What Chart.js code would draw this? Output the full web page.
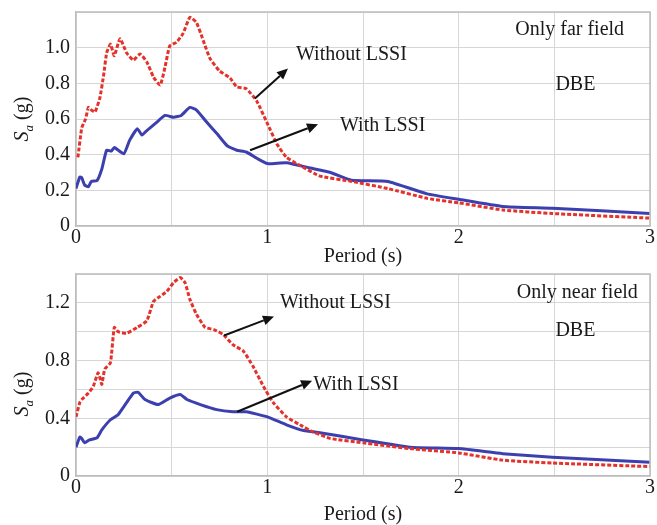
<!DOCTYPE html>
<html>
<head>
<meta charset="utf-8">
<script src="https://cdn.jsdelivr.net/npm/chart.js@4.4.1/dist/chart.umd.min.js"></script>
<style>
  body { margin: 0; background: #fff; }
  #wrap { position: relative; width: 657px; height: 525px; }
  canvas { position: absolute; left: 0; }
</style>
</head>
<body>
<div id="wrap">
  <canvas id="farChart" width="657" height="268" style="top:0"></canvas>
  <canvas id="nearChart" width="657" height="257" style="top:268px"></canvas>
</div>
<script>
// Only far field, DBE : period (s) and Sa (g)
const farWithoutT = [0.01,0.03,0.05,0.065,0.08,0.1,0.125,0.145,0.16,0.18,0.2,0.23,0.265,0.3,0.335,0.37,0.405,0.44,0.465,0.49,0.525,0.56,0.595,0.63,0.665,0.70,0.75,0.805,0.84,0.89,0.945,1.0,1.05,1.10,1.17,1.275,1.44,1.63,1.835,2.0,2.23,2.49,3.0];
const farWithoutSa = [0.385,0.55,0.6,0.665,0.65,0.64,0.72,0.85,0.97,1.02,0.955,1.05,0.97,0.93,0.965,0.92,0.835,0.79,0.89,1.01,1.03,1.08,1.17,1.14,1.04,0.94,0.87,0.83,0.78,0.77,0.70,0.575,0.46,0.385,0.34,0.28,0.25,0.21,0.155,0.13,0.09,0.07,0.044];
const farWithT = [0.0,0.02,0.03,0.045,0.065,0.08,0.11,0.135,0.16,0.185,0.2,0.25,0.28,0.32,0.345,0.37,0.42,0.465,0.51,0.55,0.595,0.63,0.685,0.735,0.79,0.84,0.89,0.945,1.0,1.10,1.225,1.33,1.44,1.63,1.835,2.0,2.23,2.49,3.0];
const farWithSa = [0.21,0.275,0.27,0.23,0.22,0.25,0.255,0.32,0.425,0.42,0.44,0.405,0.48,0.545,0.51,0.535,0.58,0.62,0.61,0.62,0.665,0.65,0.58,0.52,0.45,0.425,0.415,0.38,0.35,0.355,0.325,0.30,0.257,0.25,0.18,0.15,0.11,0.10,0.07];

// Only near field, DBE
const nearWithoutT = [0.0,0.02,0.03,0.065,0.09,0.115,0.125,0.135,0.15,0.18,0.2,0.22,0.265,0.32,0.37,0.405,0.44,0.475,0.51,0.545,0.57,0.595,0.63,0.675,0.72,0.77,0.82,0.875,0.925,0.98,1.03,1.10,1.17,1.24,1.33,1.5,1.745,2.0,2.23,2.49,3.0];
const nearWithoutSa = [0.41,0.51,0.53,0.575,0.62,0.715,0.68,0.635,0.74,0.785,1.03,1.0,0.99,1.03,1.075,1.21,1.245,1.28,1.34,1.375,1.34,1.225,1.12,1.03,1.015,0.98,0.91,0.865,0.76,0.62,0.51,0.41,0.355,0.305,0.26,0.23,0.19,0.16,0.11,0.09,0.065];
const nearWithT = [0.0,0.02,0.03,0.045,0.07,0.11,0.135,0.18,0.22,0.265,0.3,0.325,0.36,0.43,0.49,0.545,0.58,0.65,0.735,0.82,0.89,1.0,1.10,1.19,1.275,1.5,1.745,2.0,2.23,2.49,3.0];
const nearWithSa = [0.20,0.27,0.26,0.23,0.25,0.265,0.32,0.39,0.425,0.51,0.575,0.58,0.53,0.495,0.54,0.565,0.53,0.495,0.46,0.445,0.445,0.41,0.355,0.315,0.30,0.25,0.20,0.19,0.155,0.13,0.095];

const xTicks = [0, 1, 2, 3];
const farYMax = 1.2, nearYMax = 1.4;

const serif = "'Liberation Serif', 'Times New Roman', serif";
Chart.defaults.font.family = serif;
Chart.defaults.font.size = 20;
Chart.defaults.color = '#1a1a1a';

function toPoints(t, sa) {
  return t.map((v, i) => ({ x: v, y: sa[i] }));
}

// frame, arrows, labels and axis titles
const notesPlugin = {
  id: 'notes',
  afterDraw(chart, args, opts) {
    const ctx = chart.ctx;
    const a = chart.chartArea;
    const xs = chart.scales.x, ys = chart.scales.y;
    ctx.save();
    ctx.strokeStyle = '#bdbdbd';
    ctx.lineWidth = 1.5;
    ctx.beginPath();
    ctx.moveTo(a.left, a.top); ctx.lineTo(a.right, a.top); ctx.lineTo(a.right, a.bottom);
    ctx.stroke();

    // arrows
    ctx.strokeStyle = '#111';
    ctx.fillStyle = '#111';
    ctx.lineWidth = 2;
    opts.arrows.forEach(ar => {
      const x1 = xs.getPixelForValue(ar[0]), y1 = ys.getPixelForValue(ar[1]);
      const x2 = xs.getPixelForValue(ar[2]), y2 = ys.getPixelForValue(ar[3]);
      const ang = Math.atan2(y2 - y1, x2 - x1);
      const hl = 11, hw = 5;
      const bx = x2 - hl * Math.cos(ang), by = y2 - hl * Math.sin(ang);
      ctx.beginPath(); ctx.moveTo(x1, y1); ctx.lineTo(bx, by); ctx.stroke();
      ctx.beginPath();
      ctx.moveTo(x2, y2);
      ctx.lineTo(bx - hw * Math.sin(ang), by + hw * Math.cos(ang));
      ctx.lineTo(bx + hw * Math.sin(ang), by - hw * Math.cos(ang));
      ctx.closePath(); ctx.fill();
    });

    // text notes
    ctx.fillStyle = '#1a1a1a';
    ctx.font = '20px ' + serif;
    ctx.textBaseline = 'middle';
    opts.texts.forEach(tx => {
      ctx.textAlign = tx.align;
      ctx.fillText(tx.text, xs.getPixelForValue(tx.x), ys.getPixelForValue(tx.y));
    });

    // x title
    ctx.textAlign = 'center';
    ctx.fillText('Period (s)', (a.left + a.right) / 2, a.bottom + opts.xTitleGap);

    // y title: S_a (g)
    ctx.translate(21, (a.top + a.bottom) / 2 + opts.yTitleShift);
    ctx.rotate(-Math.PI / 2);
    ctx.textAlign = 'left';
    ctx.textBaseline = 'alphabetic';
    ctx.font = 'italic 20px ' + serif;
    const wS = ctx.measureText('S').width;
    ctx.font = 'italic 13px ' + serif;
    const wA = ctx.measureText('a').width;
    ctx.font = '20px ' + serif;
    const wG = ctx.measureText(' (g)').width;
    let x0 = -(wS + wA + wG) / 2;
    ctx.font = 'italic 20px ' + serif;
    ctx.fillText('S', x0, 7);
    ctx.font = 'italic 13px ' + serif;
    ctx.fillText('a', x0 + wS, 12);
    ctx.font = '20px ' + serif;
    ctx.fillText(' (g)', x0 + wS + wA, 7);
    ctx.restore();
  }
};

function makeChart(id, withoutT, withoutSa, withT, withSa, yMax, yStep, pad, xHeight, notes) {
  return new Chart(document.getElementById(id), {
    type: 'line',
    data: {
      datasets: [
        {
          label: 'Without LSSI',
          data: toPoints(withoutT, withoutSa),
          borderColor: '#e4322b',
          borderWidth: 3,
          borderDash: [4, 2],
          pointRadius: 0,
          tension: 0.15,
          fill: false,
        },
        {
          label: 'With LSSI',
          data: toPoints(withT, withSa),
          borderColor: '#3c3fae',
          borderWidth: 3,
          pointRadius: 0,
          tension: 0.15,
          fill: false,
        },
      ],
    },
    options: {
      responsive: false,
      animation: false,
      layout: { padding: { top: pad, right: 7, left: 0, bottom: 0 } },
      plugins: {
        legend: { display: false },
        tooltip: { enabled: false },
        notes: notes,
      },
      scales: {
        x: {
          type: 'linear',
          min: 0,
          max: 3,
          afterFit: s => { s.height = xHeight; s.paddingLeft = 0; s.paddingRight = 0; },
          grid: { color: '#d6d6d6', borderDash: [1, 2], drawTicks: false },
          border: { color: '#bdbdbd', width: 1.5 },
          ticks: {
            stepSize: 0.5,
            padding: 0,
            maxRotation: 0,
            callback: v => (xTicks.includes(v) ? String(v) : ''),
          },
        },
        y: {
          min: 0,
          max: yMax,
          afterFit: s => { s.width = 76; s.paddingTop = 0; s.paddingBottom = 0; },
          grid: { color: '#d6d6d6', borderDash: [1, 2], drawTicks: false },
          border: { color: '#bdbdbd', width: 1.5 },
          ticks: {
            stepSize: 0.2,
            padding: 6,
            callback: (v, i) => {
              if (Math.abs(v) < 1e-9) return '0';
              if (i % yStep !== 0 || v > yMax - 0.1) return '';
              return v.toFixed(1);
            },
          },
        },
      },
    },
    plugins: [notesPlugin],
  });
}

makeChart('farChart', farWithoutT, farWithoutSa, farWithT, farWithSa, farYMax, 1, 12, 42, {
  arrows: [[0.935, 0.715, 1.108, 0.883], [0.91, 0.425, 1.265, 0.57]],
  texts: [
    { text: 'Without LSSI', x: 1.15, y: 0.96, align: 'left' },
    { text: 'With LSSI', x: 1.38, y: 0.56, align: 'left' },
    { text: 'Only far field', x: 2.58, y: 1.10, align: 'center' },
    { text: 'DBE', x: 2.61, y: 0.79, align: 'center' },
  ],
  xTitleGap: 31,
  yTitleShift: 0,
});

makeChart('nearChart', nearWithoutT, nearWithoutSa, nearWithT, nearWithSa, nearYMax, 2, 6, 49, {
  arrows: [[0.774, 0.974, 1.035, 1.106], [0.842, 0.445, 1.234, 0.66]],
  texts: [
    { text: 'Without LSSI', x: 1.066, y: 1.20, align: 'left' },
    { text: 'With LSSI', x: 1.24, y: 0.633, align: 'left' },
    { text: 'Only near field', x: 2.62, y: 1.27, align: 'center' },
    { text: 'DBE', x: 2.61, y: 1.01, align: 'center' },
  ],
  xTitleGap: 39,
  yTitleShift: 19,
});
</script>
</body>
</html>
